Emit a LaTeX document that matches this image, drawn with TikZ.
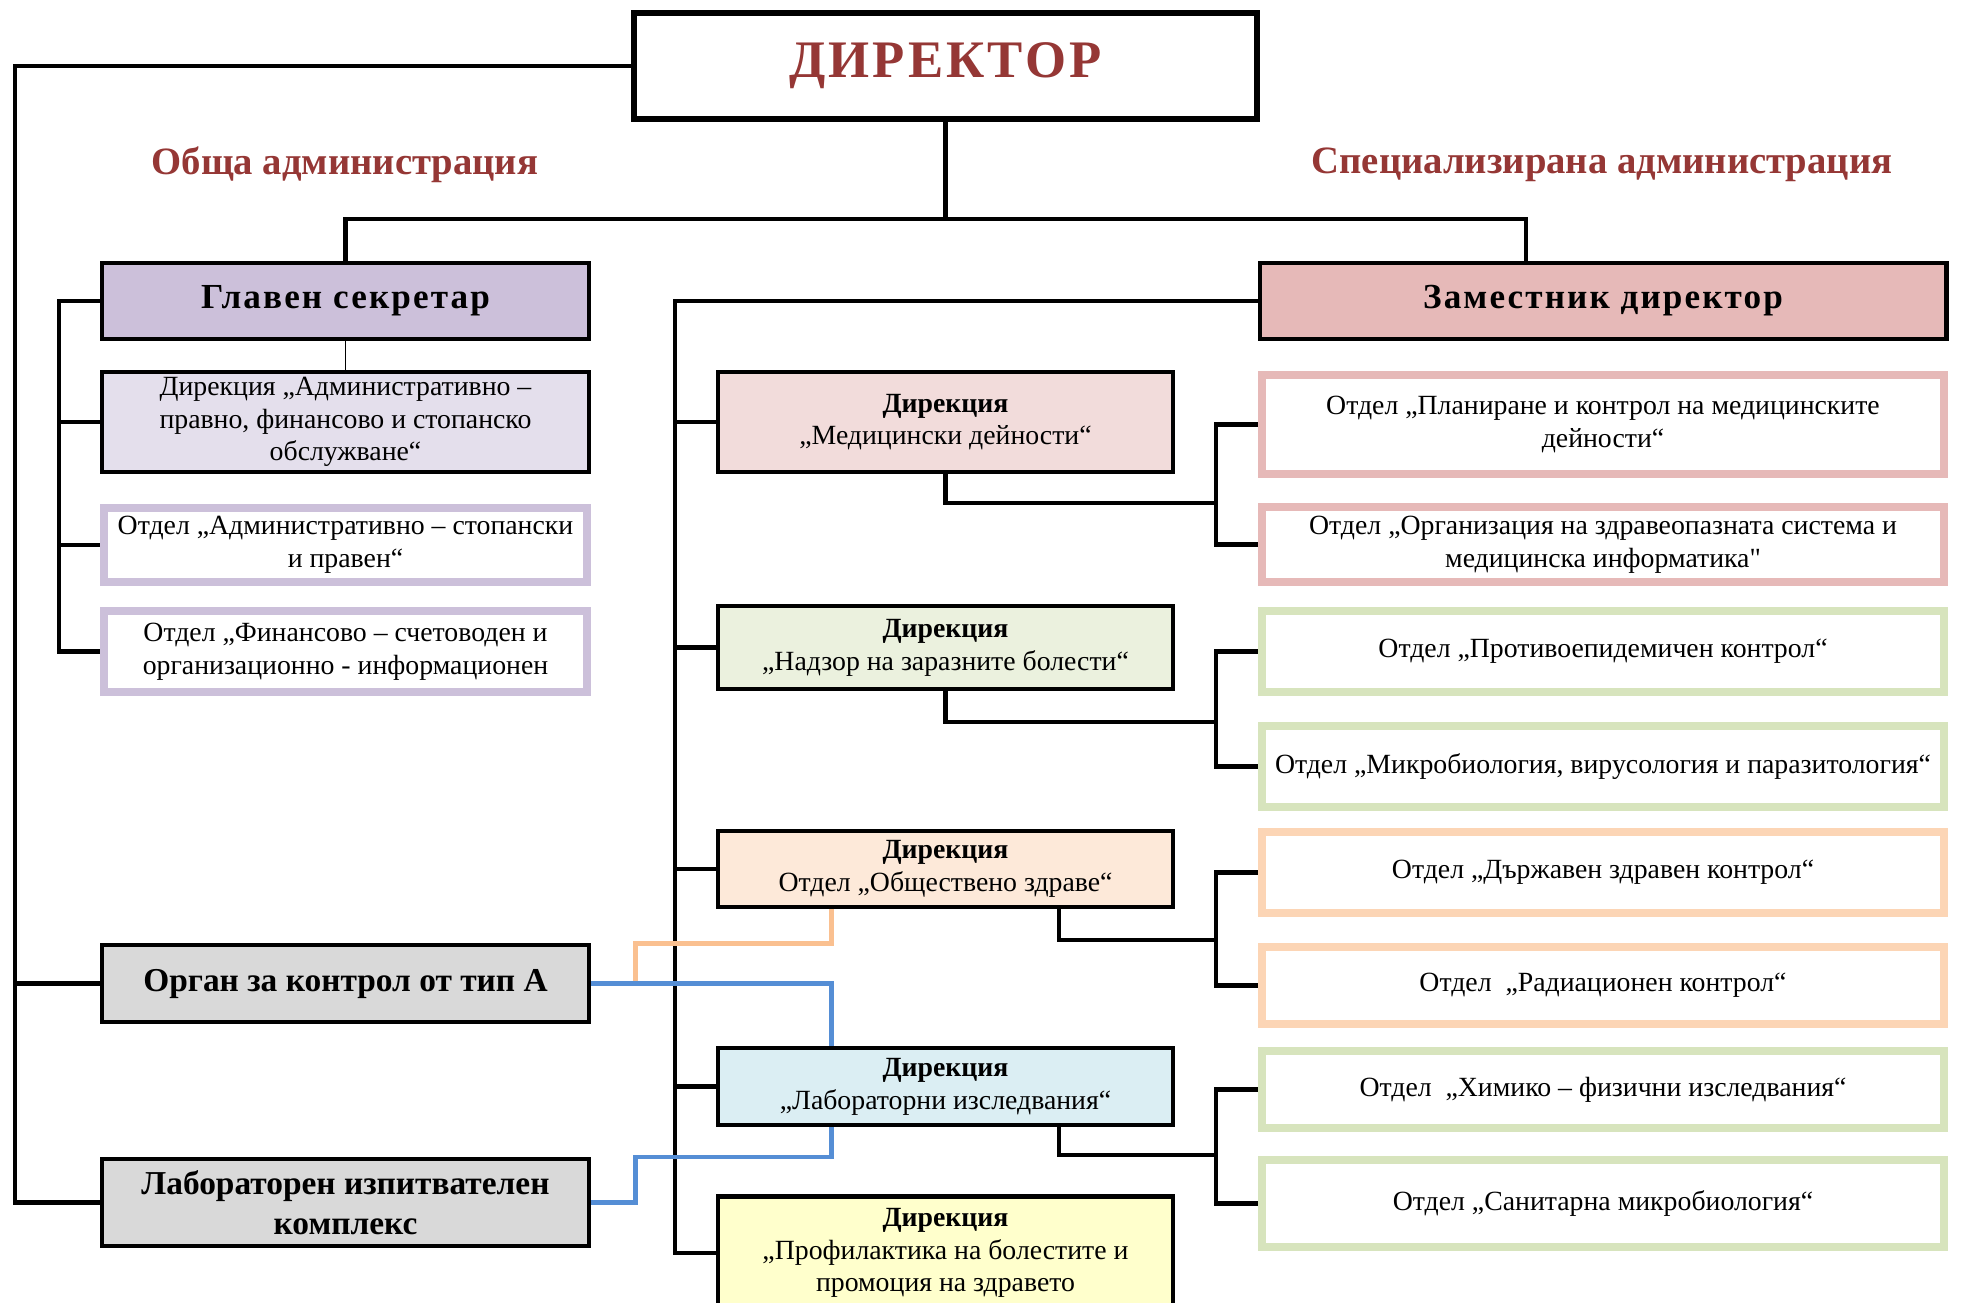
\documentclass[tikz,border=0pt]{standalone}
\usepackage{fontspec}
\setmainfont{Liberation Serif}
\usetikzlibrary{calc}

\definecolor{titlered}{HTML}{953735}
\definecolor{lilac}{HTML}{CCC0DA}
\definecolor{lilaclight}{HTML}{E4DFEC}
\definecolor{rose}{HTML}{E6B9B8}
\definecolor{roselight}{HTML}{F2DCDB}
\definecolor{sage}{HTML}{D7E4BD}
\definecolor{sagelight}{HTML}{EBF1DE}
\definecolor{peach}{HTML}{FCD5B5}
\definecolor{peachlight}{HTML}{FDE9D9}
\definecolor{skylight}{HTML}{DBEEF3}
\definecolor{lemon}{HTML}{FFFFCC}
\definecolor{greybox}{HTML}{D9D9D9}
\definecolor{orangeline}{HTML}{FAC090}
\definecolor{blueline}{HTML}{558ED5}

\newcommand\boxfont{\fontsize{7.9}{9.3}\selectfont}
\newcommand\headfont{\fontsize{10}{12}\selectfont\bfseries\addfontfeatures{LetterSpace=6}}
\newcommand\unitfont{\fontsize{9.5}{11.5}\selectfont\bfseries}
\newcommand\straightquote{{\addfontfeatures{Ligatures=TeXOff}"}}

\tikzset{
  conn/.style={line width=1.3pt},
  lbox/.style={draw, line width=1.3pt, minimum width=4.87cm, inner sep=0pt, align=center, font=\boxfont},
  lsec/.style={draw=lilac, line width=2.3pt, fill=white, minimum width=4.83cm, inner sep=0pt, align=center, font=\boxfont},
  mbox/.style={draw, line width=1.3pt, minimum width=4.55cm, inner sep=0pt, align=center, font=\boxfont},
  rbox/.style={line width=2.3pt, fill=white, minimum width=6.82cm, inner sep=0pt, align=center, font=\boxfont},
  orln/.style={orangeline, line width=1.3pt},
  blln/.style={blueline, line width=1.3pt}
}

\begin{document}
\begin{tikzpicture}[x=0.01cm, y=-0.01cm]
  \useasboundingbox (0,0) rectangle (1966,1302);

  \node[draw, line width=1.8pt, minimum width=6.23cm, minimum height=1.06cm, text=titlered,
    font=\fontsize{15}{17}\selectfont\bfseries\addfontfeatures{LetterSpace=6}] (dir) at (945.5,66) {ДИРЕКТОР};
  \node[text=titlered, font=\fontsize{11}{13}\selectfont\bfseries] (gen) at (345,165) {Обща администрация};
  \node[text=titlered, font=\fontsize{11}{13}\selectfont\bfseries] (spec) at (1602,165) {Специализирана администрация};

  % obshta administratsia
  \node[lbox, fill=lilac, minimum height=0.76cm, font=\headfont] (gs) at (345.5,301) {Главен секретар};
  \node[lbox, fill=lilaclight, minimum height=1cm] (apf) at (345.5,422) {Дирекция „Административно –\\правно, финансово и стопанско\\обслужване“};
  \node[lsec, minimum height=0.74cm] (adm) at (345.5,545) {Отдел „Административно – стопански\\и правен“};
  \node[lsec, minimum height=0.81cm] (fin) at (345.5,651.5) {Отдел „Финансово – счетоводен и\\организационно - информационен};
  \node[lbox, fill=greybox, minimum height=0.77cm, font=\unitfont] (org) at (345.5,983.5) {Орган за контрол от тип А};
  \node[lbox, fill=greybox, minimum height=0.87cm, font=\unitfont] (lab) at (345.5,1202.5) {Лабораторен изпитвателен\\комплекс};

  % spetsializirana administratsia
  \node[draw, line width=1.3pt, fill=rose, minimum width=6.86cm, minimum height=0.76cm, font=\headfont] (zam) at (1603,301) {Заместник директор};
  \node[mbox, fill=roselight, minimum height=1cm] (med) at (945.5,422) {\textbf{Дирекция}\\„Медицински дейности“};
  \node[mbox, fill=sagelight, minimum height=0.83cm] (nad) at (945.5,647.5) {\textbf{Дирекция}\\„Надзор на заразните болести“};
  \node[mbox, fill=peachlight, minimum height=0.76cm] (oz) at (945.5,869) {\textbf{Дирекция}\\Отдел „Обществено здраве“};
  \node[mbox, fill=skylight, minimum height=0.77cm] (labd) at (945.5,1086.5) {\textbf{Дирекция}\\„Лабораторни изследвания“};
  \node[mbox, fill=lemon, minimum height=1.13cm] (prof) at (945.5,1253) {\textbf{Дирекция}\\„Профилактика на болестите и\\промоция на здравето};

  \node[rbox, draw=rose, minimum height=0.99cm] (plan) at (1603,424.5) {Отдел „Планиране и контрол на медицинските\\дейности“};
  \node[rbox, draw=rose, minimum height=0.75cm] (orgz) at (1603,544.5) {Отдел „Организация на здравеопазната система и\\медицинска информатика\straightquote};
  \node[rbox, draw=sage, minimum height=0.81cm] (prot) at (1603,651.5) {Отдел „Противоепидемичен контрол“};
  \node[rbox, draw=sage, minimum height=0.81cm] (mikro) at (1603,766.5) {Отдел „Микробиология, вирусология и паразитология“};
  \node[rbox, draw=peach, minimum height=0.81cm] (darj) at (1603,872.5) {Отдел „Държавен здравен контрол“};
  \node[rbox, draw=peach, minimum height=0.77cm] (rad) at (1603,985.5) {Отдел\ \ „Радиационен контрол“};
  \node[rbox, draw=sage, minimum height=0.77cm] (him) at (1603,1089.5) {Отдел\ \ „Химико – физични изследвания“};
  \node[rbox, draw=sage, minimum height=0.87cm] (san) at (1603,1203.5) {Отдел „Санитарна микробиология“};

  % vruzki
  \coordinate (tbus) at (945.5,219);
  \draw[conn] (dir.south) -- (tbus) -| (gs.north);
  \draw[conn] (tbus) -| ([xshift=-0.77cm]zam.north);
  \draw[thin] (gs.south) -- (apf.north);

  \coordinate (lbus) at (15,66);
  \draw[conn] (dir.west) -- (lbus) |- (lab.west);
  \draw[conn] (org.west) -- (org.west -| lbus);

  \coordinate (gbus) at (59,301);
  \draw[conn] (gs.west) -- (gbus) |- (fin.west);
  \draw[conn] (apf.west) -- (apf.west -| gbus);
  \draw[conn] (adm.west) -- (adm.west -| gbus);

  \coordinate (mbus) at (675,301);
  \draw[conn] (zam.west) -- (mbus) |- (prof.west);
  \foreach \n in {med,nad,oz,labd}
    \draw[conn] (\n.west) -- (\n.west -| mbus);

  \coordinate (j1) at (1216,503);
  \coordinate (j2) at (1216,722);
  \coordinate (j3) at (1216,940);
  \coordinate (j4) at (1216,1155);
  \draw[conn] (med.south) |- (j1);
  \draw[conn] (plan.west) -| (j1) |- (orgz.west);
  \draw[conn] (nad.south) |- (j2);
  \draw[conn] (prot.west) -| (j2) |- (mikro.west);
  \draw[conn] ($(oz.south)+(113.5,0)$) |- (j3);
  \draw[conn] (darj.west) -| (j3) |- (rad.west);
  \draw[conn] ($(labd.south)+(113.5,0)$) |- (j4);
  \draw[conn] (him.west) -| (j4) |- (san.west);

  \coordinate (oj) at ($(org.east)+(44,0)$);
  \draw[orln] (oj) -- ++(0,-40) -| ($(oz.south)+(-114,0)$);
  \draw[blln] (org.east) -| ($(labd.north)+(-114,0)$);
  \draw[blln] (lab.east) -- ++(44,0) -- ++(0,-45.5) -| ($(labd.south)+(-114,0)$);
\end{tikzpicture}
\end{document}
